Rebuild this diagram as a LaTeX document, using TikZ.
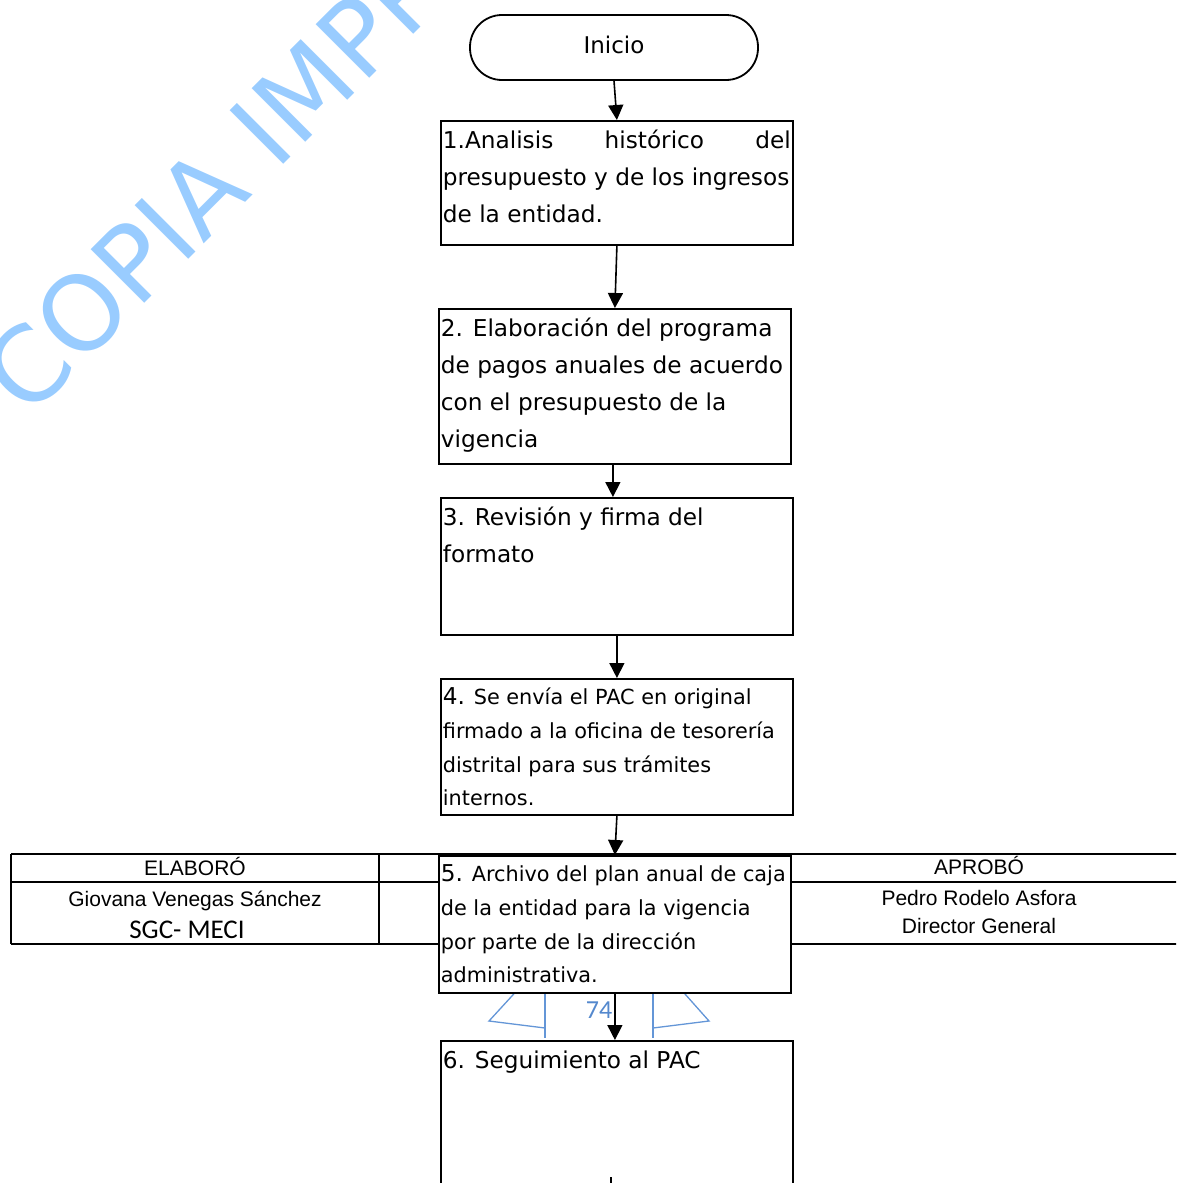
\documentclass[tikz,border=0pt]{standalone}
\usepackage{fontspec}
\setmainfont{DejaVu Sans}
\newfontfamily\arialf{Liberation Sans}
\newfontfamily\calib{Carlito}
\usetikzlibrary{arrows.meta,calc}
\definecolor{wm}{RGB}{153,204,255}
\definecolor{pgblue}{RGB}{100,150,215}
\definecolor{pgnum}{RGB}{84,136,205}
\newcommand\bxt[3]{\parbox[t][#2][t]{#1}{\raggedright #3}}
\tikzset{
  box/.style={draw, line width=1.8pt, fill=white, anchor=north west, inner sep=0.6pt, align=left},
  flow/.style={line width=1.6pt, -{Triangle[length=15pt,width=15pt]}},
  tbl/.style={line width=2.2pt},
  sig/.style={font=\arialf\fontsize{21}{21}\selectfont, anchor=base, inner sep=0pt},
  pg/.style={draw=pgblue, line width=1.3pt},
}
\begin{document}
\begin{tikzpicture}[x=1pt,y=-1pt]
\useasboundingbox (0,0) rectangle (1176,1183);
\clip (0,0) rectangle (1176,1183);
% watermark
\node[font=\fontsize{104}{104}\selectfont, text=wm, rotate=45, anchor=base west, inner sep=0pt] (wmk) at (28,420) {COPIA IMPRESA};
% page number ribbon
\draw[pg] (522,985) -- (489,1021) -- (545,1028);
\draw[pg] (545,985) -- (545,1038);
\draw[pg] (653,985) -- (653,1038);
\draw[pg] (653,1028) -- (709,1021) -- (677,985);
\node[font=\calib\fontsize{26}{26}\selectfont, text=pgnum, anchor=base, inner sep=0pt] (pnum) at (599,1018) {74};
% signature table
\draw[tbl] (11,854) -- (1180,854);
\draw[tbl] (11,882) -- (1180,882);
\draw[tbl] (11,944) -- (1180,944);
\draw[tbl] (11,854) -- (11,944);
\draw[tbl] (379,854) -- (379,944);
\node[sig] (elab) at (195,875) {ELABORÓ};
\node[sig] (gio) at (195,906) {Giovana Venegas Sánchez};
\node[sig, font=\calib\fontsize{27}{27}\selectfont] (sgc) at (187,938) {SGC- MECI};
\node[sig] (apr) at (979,874) {APROBÓ};
\node[sig] (ped) at (979,905) {Pedro Rodelo Asfora};
\node[sig] (dir) at (979,933) {Director General};
% start
\node[draw, line width=1.8pt, rounded corners=32pt, minimum width=288pt, minimum height=65pt, text depth=6pt, font=\fontsize{23}{23}\selectfont] (ini) at (614,47.5) {Inicio};
% boxes
\node[box, minimum width=352pt, minimum height=124pt] (b1) at (440,120)
 {\bxt{348pt}{120pt}{\fontsize{23.2}{37}\selectfont\hbox to\linewidth{\strut 1.Analisis\hfill histórico\hfill del}presupuesto y de los ingresos\\de la entidad.}};
\node[box, minimum width=352pt, minimum height=155pt] (b2) at (438,308)
 {\bxt{348pt}{151pt}{\fontsize{23.2}{37}\selectfont\strut 2. Elaboración del programa\\de pagos anuales de acuerdo\\con el presupuesto de la\\vigencia}};
\node[box, minimum width=352pt, minimum height=137pt] (b3) at (440,497)
 {\bxt{348pt}{133pt}{\fontsize{23.2}{37}\selectfont\strut 3. Revisión y firma del\\formato}};
\node[box, minimum width=352pt, minimum height=136pt] (b4) at (440,678)
 {\bxt{348pt}{132pt}{\fontsize{20.8}{33.8}\selectfont\strut{\fontsize{23.2}{33.8}\selectfont 4.} Se envía el PAC en original\\firmado a la oficina de tesorería\\distrital para sus trámites\\internos.}};
\node[box, minimum width=352pt, minimum height=137pt] (b5) at (438,855)
 {\bxt{348pt}{133pt}{\fontsize{20.8}{33.8}\selectfont\strut{\fontsize{23.2}{33.8}\selectfont 5.} Archivo del plan anual de caja\\de la entidad para la vigencia\\por parte de la dirección\\administrativa.}};
\node[box, minimum width=352pt, minimum height=200pt] (b6) at (440,1040)
 {\bxt{348pt}{196pt}{\fontsize{23.2}{37}\selectfont\strut 6. Seguimiento al PAC}};
% connectors
\draw[flow] (ini.south) -- (b1.north);
\draw[flow] (b1.south) -- (b2.north);
\draw[flow] ($(b2.south)+(-2,0)$) -- ($(b3.north)+(-4,0)$);
\draw[flow] (b3.south) -- (b4.north);
\draw[flow] (b4.south) -- (b5.north);
\draw[flow] (b5.south) -- (b5.south |- b6.north);
\coordinate (tick) at (611,1177);
\draw[line width=1.6pt] (tick) -- ++(0,10);
\end{tikzpicture}
\end{document}
